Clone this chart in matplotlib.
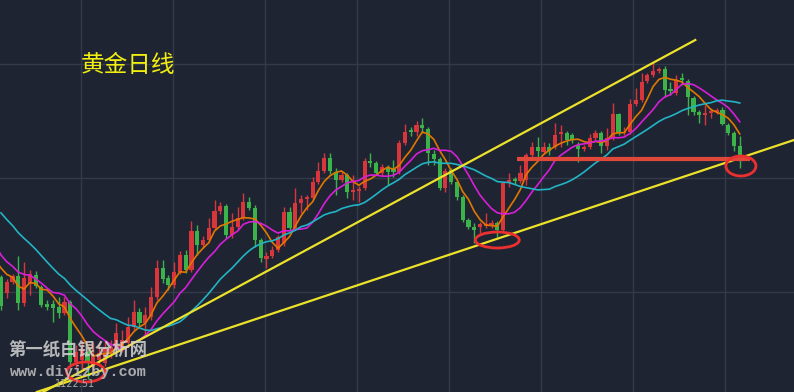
import matplotlib
matplotlib.use("Agg")
import matplotlib.pyplot as plt
from matplotlib.patches import Ellipse
import numpy as np
import pandas as pd

# daily gold candles (red = up, green = down)
open_ = [1173.5, 1165.5, 1171, 1174, 1160.5, 1170.5, 1174.5, 1168.5, 1160, 1160,
         1158.5, 1155.5, 1161, 1131, 1132, 1136, 1129.5, 1132, 1130.5, 1135.5,
         1138.5, 1137, 1140.5, 1148.5, 1156, 1150.5, 1153.5, 1163.5, 1178, 1173,
         1169.5, 1176, 1184.5, 1177, 1196.5, 1189.5, 1192, 1198, 1206.5, 1209,
         1194.5, 1198.5, 1203, 1211, 1208, 1192, 1182.5, 1184, 1187, 1190.5,
         1206, 1198, 1210.5, 1212.5, 1213, 1221, 1226.5, 1233, 1226, 1222,
         1224.5, 1216, 1216.5, 1218, 1231.5, 1230.5, 1225.5, 1228, 1227.5, 1226,
         1240.5, 1247, 1246, 1249.5, 1247.5, 1235, 1232.5, 1218, 1227, 1221,
         1213.5, 1202, 1198.5, 1198.5, 1199, 1199, 1200.5, 1197, 1221, 1222.5,
         1221.5, 1222, 1234.5, 1238.5, 1236, 1238.5, 1238.5, 1245, 1245.5, 1244.5,
         1239.5, 1237.5, 1238.5, 1243, 1245.5, 1239, 1243, 1255, 1245.5, 1246,
         1260, 1262, 1271.5, 1274.5, 1276.5, 1277.5, 1267.5, 1265.5, 1273, 1271.5,
         1263, 1256, 1254.5, 1255.5, 1256, 1257, 1249.5, 1245.5, 1239]
high = [1174.5, 1172.5, 1175, 1184, 1181, 1177, 1176.5, 1169.5, 1162, 1162,
        1163.5, 1163.5, 1162, 1139.5, 1142, 1138, 1141, 1140.5, 1142, 1142,
        1150.5, 1147, 1153.5, 1162, 1158, 1158.5, 1168.5, 1182, 1182, 1174.5,
        1181, 1186.5, 1187, 1201.5, 1199.5, 1194, 1203, 1212, 1211, 1210,
        1205.5, 1208.5, 1215.5, 1213.5, 1209.5, 1193, 1186, 1189, 1194.5, 1208.5,
        1208.5, 1218, 1214.5, 1214.5, 1223.5, 1231, 1235.5, 1235.5, 1228, 1226,
        1225.5, 1224.5, 1219, 1233, 1235.5, 1231.5, 1230, 1229.5, 1232, 1242,
        1250, 1248.5, 1251.5, 1253, 1248.5, 1237, 1233.5, 1228, 1228, 1222,
        1214.5, 1203, 1200.5, 1201, 1205.5, 1202, 1201.5, 1221, 1225.5, 1223.5,
        1229.5, 1235.5, 1241, 1243.5, 1241, 1240.5, 1250.5, 1249.5, 1246.5, 1245.5,
        1241, 1239.5, 1245, 1247, 1246.5, 1248, 1260.5, 1255.5, 1248.5, 1262.5,
        1268, 1275.5, 1275.5, 1281, 1278.5, 1279, 1271, 1274.5, 1275.5, 1272.5,
        1264, 1257, 1259.5, 1258, 1258, 1258.5, 1250.5, 1246.5, 1244]
low = [1157, 1163, 1170, 1157, 1159, 1164.5, 1168, 1158.5, 1157, 1151,
       1153, 1154.5, 1129.5, 1128, 1127, 1122.51, 1126, 1129, 1129, 1133,
       1137, 1136, 1139, 1147, 1149, 1143.5, 1152, 1162, 1170.5, 1167,
       1168, 1175, 1175.5, 1176, 1184.5, 1188, 1191, 1197, 1205, 1193,
       1193, 1197, 1202, 1207, 1188.5, 1181, 1178, 1183, 1186, 1189,
       1197, 1197, 1205.5, 1207, 1212, 1220, 1225.5, 1225, 1214.5, 1221,
       1213, 1212, 1211, 1217, 1228.5, 1224.5, 1224, 1219.5, 1223.5, 1225,
       1239.5, 1244, 1244, 1245.5, 1229.5, 1229.5, 1217, 1216, 1220, 1212,
       1201, 1197.5, 1190.5, 1195.5, 1198, 1198, 1193.5, 1196, 1218.5, 1220,
       1220.5, 1219.5, 1233.5, 1233.5, 1235, 1234.5, 1237.5, 1238.5, 1239.5, 1240.5,
       1231, 1236.5, 1237.5, 1242, 1235.5, 1237, 1242, 1244.5, 1244.5, 1245,
       1259, 1261, 1270.5, 1273.5, 1275.5, 1263.5, 1264.5, 1264.5, 1269.5, 1254.5,
       1254.5, 1250.5, 1249.5, 1253, 1255, 1249.5, 1244.5, 1236.5, 1228]
close = [1159, 1171, 1174, 1160.5, 1173, 1175, 1169, 1159.5, 1158.5, 1158,
         1155.5, 1161, 1131, 1136, 1137, 1131, 1134.5, 1135.5, 1138, 1138.5,
         1145.5, 1142, 1148.5, 1156, 1150.5, 1154.5, 1163.5, 1178, 1172.5, 1169.5,
         1176, 1184.5, 1177, 1196.5, 1189.5, 1192, 1198, 1206.5, 1209, 1194.5,
         1198.5, 1203, 1211, 1208, 1192, 1183, 1184, 1187, 1193.5, 1206,
         1198, 1210.5, 1212.5, 1213.5, 1221, 1226.5, 1233, 1226.5, 1222, 1224.5,
         1216, 1217, 1217.5, 1231.5, 1230.5, 1225.5, 1228.5, 1226, 1226, 1240.5,
         1246, 1246, 1249.5, 1248, 1235.5, 1232.5, 1218, 1226.5, 1221, 1213.5,
         1202, 1198.5, 1197, 1200, 1200, 1200.5, 1197, 1220.5, 1222, 1221.5,
         1225.5, 1234.5, 1238.5, 1236.5, 1238.5, 1236.5, 1244.5, 1246, 1242, 1242,
         1237.5, 1238.5, 1243, 1245.5, 1239, 1243, 1255, 1245.5, 1246, 1260,
         1262, 1271, 1274.5, 1276.5, 1277.5, 1267, 1266.5, 1272, 1272, 1263.5,
         1256, 1254.5, 1255.5, 1256.5, 1257, 1250, 1245.5, 1239, 1233.5]
# closes before the visible window (only feed the moving averages)
prev_close = [1237, 1234.5, 1232, 1229.5, 1227, 1226, 1224, 1222, 1219.5, 1214.5,
              1204.5, 1197, 1189.5, 1184.5, 1179.5, 1187, 1181, 1183, 1180]

low_label = "1122.51"
ma_periods = [5, 10, 20]
ma_colors = ["#e07800", "#d81ed8", "#22b4c4"]

# trend lines / support as (candle index, price)
trend_up = ([7.3, 120.3], [1116, 1292])
trend_low = ([6.2, 137.4], [1116, 1242])
support_x = [89.4, 129.8]
support_y = 1232.75
circles = [(14.7, 1126, 6.6, 10), (86.0, 1192, 7.6, 8), (128.2, 1229, 5.2, 10)]

bg = "#1f2433"
up_col = "#d9363b"
dn_col = "#3bb34a"

n = len(close)
idx = np.arange(n)
o = np.array(open_)
c = np.array(close)

fig = plt.figure(figsize=(7.94, 3.92), dpi=100)
fig.patch.set_facecolor(bg)
ax = fig.add_axes([0, 0, 1, 1])
ax.set_facecolor(bg)
ax.set_xlim(-0.17, 137.4)
ax.set_ylim(1116, 1312)

# grid
ax.set_xticks(13.86 + 15.94 * np.arange(8))
ax.set_yticks([1166, 1223, 1280])
ax.grid(True, color="#343a49", linewidth=1)
ax.tick_params(length=0, labelbottom=False, labelleft=False)
for s in ax.spines.values():
    s.set_visible(False)
ax.set_axisbelow(True)

# candles
cols = [up_col if c[i] >= o[i] else dn_col for i in range(n)]
ax.vlines(idx, low, high, colors=cols, linewidth=1, zorder=2)
bot = np.minimum(o, c)
hgt = np.maximum(np.abs(c - o), 0.6)
ax.bar(idx, hgt, 0.72, bottom=bot, color=cols, linewidth=0, zorder=3)

# moving averages
all_close = pd.Series(prev_close + close)
all_x = np.arange(-len(prev_close), n)
for p, col in zip(ma_periods, ma_colors):
    ma = all_close.rolling(p).mean()
    ax.plot(all_x, ma, color=col, linewidth=1.2, zorder=4)

# annotations
ax.plot(*trend_up, color="#ece22a", linewidth=1.6, zorder=5)
ax.plot(*trend_low, color="#ece22a", linewidth=1.6, zorder=5)
ax.plot(support_x, [support_y, support_y], color="#e0483a", linewidth=3, zorder=5,
        solid_capstyle="butt")
for cx, cy, w, h in circles:
    ax.add_patch(Ellipse((cx, cy), w, h, fill=False, edgecolor="#ec2f2f",
                         linewidth=2, zorder=6))

ax.text(0.102, 0.832, "黄金日线", transform=ax.transAxes, color="#f2ee10",
        fontsize=17, family=["Noto Sans CJK SC", "DejaVu Sans"], va="center", ha="left")

ax.text(12.9, min(low), low_label, color="#a8a8a8", fontsize=7, ha="center", va="top",
        zorder=7)
ax.text(0.010, 0.107, "第一纸白银分析网", transform=ax.transAxes, color="#d4d4d4",
        alpha=0.85, fontsize=12.5, fontweight="bold",
        family=["Noto Sans CJK SC", "DejaVu Sans"], va="center", ha="left", zorder=8)
ax.text(0.0126, 0.051, "www.diyizby.com", transform=ax.transAxes, color="#c4c4c4",
        alpha=0.85, fontsize=11, fontweight="bold", family="Liberation Mono",
        va="center", ha="left", zorder=8)

fig.savefig("out.png", dpi=100, facecolor=bg)
